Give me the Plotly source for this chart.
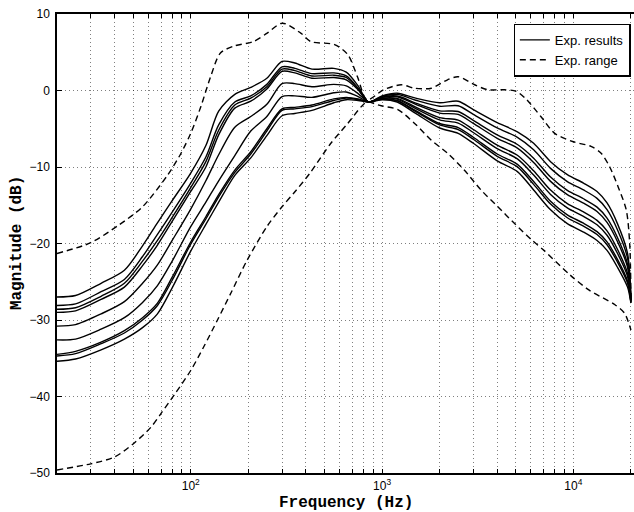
import plotly.graph_objects as go
import math

# ---- data ----
freq = [20, 25, 34, 45, 56, 67, 80, 100, 120, 140, 170, 206, 250, 300, 350, 430, 560, 650, 750, 850,
        1000, 1200, 1500, 2000, 2500, 3000, 4000, 5100, 6200, 7600, 9300, 11300, 13300, 15000, 17000, 19200, 20000]

c1 = [-27.0, -26.8, -25.2, -23.5, -20.3, -17.3, -14.4, -10.8, -7.2, -2.7, -0.5, 0.4, 1.6, 3.8, 3.6, 2.8, 2.9, 2.4, 0.6, -1.5,
      -0.7, -0.35, -1.0, -1.6, -1.4, -2.5, -4.2, -5.4, -6.9, -9.3, -11.0, -12.1, -13.2, -14.7, -17.4, -21.3, -27.2]
c2 = [-28.1, -27.9, -26.3, -24.7, -21.7, -18.8, -15.9, -12.1, -8.7, -4.5, -1.5, -0.7, 0.8, 3.1, 2.9, 2.2, 2.3, 1.9, 0.3, -1.5,
      -0.77, -0.51, -1.28, -2.06, -1.99, -3.12, -4.9, -6.13, -7.75, -10.18, -11.9, -13.0, -14.1, -15.57, -18.2, -21.92, -27.3]
c3 = [-28.6, -28.4, -26.9, -25.2, -22.3, -19.6, -16.6, -12.7, -9.3, -5.2, -1.9, -1.0, 0.5, 2.8, 2.6, 1.9, 2.0, 1.7, 0.2, -1.5,
      -0.86, -0.72, -1.64, -2.66, -2.74, -3.91, -5.8, -7.06, -8.85, -11.32, -13.05, -14.15, -15.25, -16.68, -19.22, -22.71, -27.4]
c4 = [-29.0, -28.8, -27.3, -25.7, -22.9, -20.2, -17.1, -13.2, -10.0, -5.8, -2.3, -1.4, 0.2, 2.5, 2.3, 1.6, 1.7, 1.4, 0.1, -1.5,
      -0.9, -0.82, -1.82, -2.95, -3.12, -4.3, -6.25, -7.53, -9.4, -11.88, -13.62, -14.72, -15.82, -17.24, -19.74, -23.1, -27.45]
c5 = [-30.8, -30.6, -29.2, -27.6, -25.2, -22.8, -19.6, -15.5, -11.8, -8.4, -4.8, -3.4, -1.8, 0.9, 0.9, 0.5, 0.8, 0.6, -0.4, -1.5,
      -1.0, -1.03, -2.18, -3.55, -3.88, -5.1, -7.15, -8.47, -10.5, -13.02, -14.78, -15.88, -16.98, -18.36, -20.76, -23.9, -27.55]
c6 = [-32.6, -32.5, -31.2, -29.7, -27.7, -25.5, -22.3, -17.8, -14.6, -11.8, -8.5, -5.3, -3.4, -0.8, -0.7, -0.9, -0.3, -0.2, -0.8, -1.5,
      -1.04, -1.13, -2.36, -3.84, -4.26, -5.49, -7.6, -8.94, -11.05, -13.58, -15.35, -16.45, -17.55, -18.92, -21.28, -24.29, -27.6]
c7 = [-34.5, -34.1, -32.9, -31.4, -29.7, -27.8, -24.4, -19.8, -16.5, -13.6, -10.4, -8.0, -5.0, -2.4, -2.2, -1.9, -1.1, -0.9, -1.1, -1.5,
      -1.11, -1.29, -2.64, -4.31, -4.84, -6.11, -8.3, -9.66, -11.9, -14.47, -16.25, -17.35, -18.45, -19.78, -22.07, -24.91, -27.7]
c8 = [-34.7, -34.4, -33.1, -31.7, -30.0, -28.1, -24.8, -20.1, -16.8, -13.9, -10.7, -8.3, -5.3, -2.6, -2.4, -2.1, -1.3, -1.0, -1.2, -1.5,
      -1.14, -1.36, -2.76, -4.5, -5.1, -6.37, -8.6, -9.98, -12.27, -14.84, -16.63, -17.73, -18.83, -20.16, -22.42, -25.17, -27.73]
c9 = [-35.4, -35.1, -33.9, -32.5, -31.0, -29.2, -25.8, -21.0, -17.5, -14.6, -11.1, -8.8, -5.9, -3.3, -3.0, -2.6, -1.6, -1.2, -1.3, -1.5,
      -1.2, -1.5, -3.0, -4.9, -5.6, -6.9, -9.2, -10.6, -13.0, -15.6, -17.4, -18.5, -19.6, -20.9, -23.1, -25.7, -27.8]

upper_f = [20, 30, 42, 56, 76, 89, 100, 113, 127, 143, 168, 213, 251, 301, 376, 424, 565, 662, 744, 834,
           1020, 1260, 1480, 1810, 2200, 2500, 3050, 3560, 4370, 5030, 5700, 6760, 7990, 10000, 12370, 13970,
           15500, 17150, 18900, 19700, 20000]
upper_v = [-21.3, -19.9, -17.6, -15.2, -11.0, -8.2, -5.6, -2.1, 1.8, 4.9, 5.8, 6.4, 7.5, 8.8, 7.5, 6.4, 6.0, 4.7, 1.8, -1.2,
           0.1, 0.75, 0.3, 0.3, 1.4, 1.8, 0.75, 0.1, 0.1, -0.1, -1.2, -3.4, -5.6, -6.7, -7.3, -8.2,
           -10.0, -12.6, -15.6, -20.0, -27.0]

lower_f = [20, 30, 40, 50, 62, 70, 83, 100, 117, 138, 162, 197, 250, 300, 346, 420, 540, 662, 780, 834,
           990, 1210, 1480, 1810, 2200, 2690, 3290, 4030, 4930, 6040, 7020, 9600, 12100, 16500, 18500, 20000]
lower_v = [-49.6, -48.8, -47.9, -46.2, -44.0, -42.2, -39.6, -36.6, -33.5, -30.0, -26.5, -22.2, -17.8, -15.2, -13.4, -10.8,
           -6.9, -4.3, -2.1, -1.5, -2.0, -2.5, -4.3, -6.5, -8.2, -10.4, -13.0, -15.2, -17.4, -19.5, -20.9, -24.1,
           -26.1, -28.0, -29.1, -31.3]

results = [c1, c2, c3, c4, c5, c6, c7, c8, c9]

x_tickvals = [20, 30, 40, 50, 60, 70, 80, 90, 100, 200, 300, 400, 500, 600, 700, 800, 900, 1000,
              2000, 3000, 4000, 5000, 6000, 7000, 8000, 9000, 10000, 20000]
x_ticktext = ["10<sup>2</sup>" if v == 100 else "10<sup>3</sup>" if v == 1000 else "10<sup>4</sup>" if v == 10000 else ""
              for v in x_tickvals]
y_tickvals = [-50, -40, -30, -20, -10, 0, 10]
y_ticktext = ["\u221250", "\u221240", "\u221230", "\u221220", "\u221210", "0", "10"]

fig = go.Figure()
for i, c in enumerate(results):
    fig.add_trace(go.Scatter(x=freq, y=c, mode="lines", name="Exp. results",
                             line=dict(color="black", width=1.4, shape="spline", smoothing=0.8),
                             showlegend=(i == 0), legendgroup="res"))
fig.add_trace(go.Scatter(x=upper_f, y=upper_v, mode="lines", name="Exp. range",
                         line=dict(color="black", width=1.4, dash="6px,4px", shape="spline", smoothing=0.8),
                         legendgroup="rng"))
fig.add_trace(go.Scatter(x=lower_f, y=lower_v, mode="lines", name="Exp. range",
                         line=dict(color="black", width=1.4, dash="6px,4px", shape="spline", smoothing=0.8),
                         showlegend=False, legendgroup="rng"))

grid_col = "rgba(0,0,0,0.5)"
fig.update_layout(
    width=634, height=512,
    margin=dict(l=57, r=0, t=14, b=39),
    paper_bgcolor="white", plot_bgcolor="white",
    font=dict(family="Liberation Sans, Arial, sans-serif", size=12, color="black"),
    showlegend=True,
    legend=dict(x=0.994, xanchor="right", y=0.979, yanchor="top",
                bgcolor="white", bordercolor="black", borderwidth=1.3,
                font=dict(size=13, family="Liberation Sans, Arial, sans-serif"),
                tracegroupgap=0, itemwidth=30),
    xaxis=dict(type="log", range=[math.log10(20), math.log10(20750)],
               tickvals=x_tickvals, ticktext=x_ticktext, tickangle=0,
               ticks="inside", ticklen=4, tickcolor="black", tickwidth=1,
               showline=True, linecolor="black", linewidth=1.5, mirror="allticks",
               showgrid=True, gridcolor=grid_col, griddash="1px,3px", gridwidth=1,
               zeroline=False, tickfont=dict(size=12), ticklabelstandoff=1),
    yaxis=dict(range=[-50, 10], tickvals=y_tickvals, ticktext=y_ticktext,
               ticks="inside", ticklen=5, tickcolor="black", tickwidth=1,
               showline=True, linecolor="black", linewidth=1.5,
               showgrid=True, gridcolor=grid_col, griddash="1px,3px", gridwidth=1,
               zeroline=False, tickfont=dict(size=12), ticklabelstandoff=3),
    annotations=[
        dict(text="<b>Frequency (Hz)</b>", xref="paper", yref="paper", x=0.5, y=-0.065,
             xanchor="center", yanchor="middle", showarrow=False,
             font=dict(family="Liberation Mono, Courier New, monospace", size=16, color="black")),
        dict(text="<b>Magnitude (dB)</b>", xref="paper", yref="paper", x=-0.07, y=0.5,
             xanchor="center", yanchor="middle", showarrow=False, textangle=-90,
             font=dict(family="Liberation Mono, Courier New, monospace", size=16, color="black")),
    ],
)

fig.write_html("out.html", config={"displayModeBar": False},
               post_script="document.body.style.margin='0';document.body.style.padding='0';")
